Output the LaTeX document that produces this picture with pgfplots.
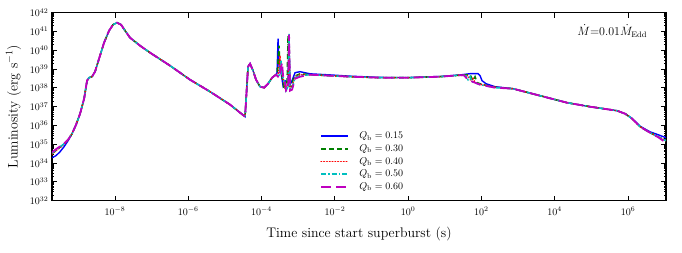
\documentclass[border=0pt]{standalone}
\usepackage{pgfplots}
\usepackage{pgfplotstable}
\pgfplotsset{compat=1.18}
\definecolor{mplblue}{rgb}{0,0,1}
\definecolor{mplgreen}{rgb}{0,0.5,0}
\definecolor{mplred}{rgb}{1,0,0}
\definecolor{mplcyan}{rgb}{0,0.75,0.75}
\definecolor{mplmagenta}{rgb}{0.75,0,0.75}

\pgfplotstableread{
t L
1.9e-10 1.94e34
2.45e-10 2.48e34
3.16e-10 4.04e34
4.06e-10 7.45e34
5.21e-10 1.55e35
6.70e-10 3.66e35
8.62e-10 1.10e36
1.11e-9 4.25e36
1.43e-9 2.67e37
1.72e-9 2.42e38
1.95e-9 3.49e38
2.35e-9 3.95e38
2.84e-9 7.28e38
3.66e-9 3.57e39
5.01e-9 2.54e40
6.86e-9 1.10e41
8.81e-9 2.30e41
1.13e-8 2.94e41
1.46e-8 2.30e41
1.88e-8 1.10e41
2.56e-8 4.68e40
4.81e-8 1.76e40
9.02e-8 7.45e39
3.17e-7 1.52e39
1.11e-6 2.73e38
3.92e-6 6.28e37
1.38e-5 1.28e37
3.53e-5 2.94e36
3.76e-5 2.08e37
4.26e-5 1.34e39
4.84e-5 1.94e39
5.84e-5 8.22e38
7.05e-5 2.73e38
9.06e-5 1.16e38
1.17e-4 1.03e38
1.50e-4 1.67e38
1.93e-4 3.49e38
2.48e-4 5.04e38
2.64e-4 6.44e38
2.81e-4 4.14e40
2.99e-4 1.34e39
3.39e-4 6.44e38
3.85e-4 1.31e38
4.36e-4 2.42e38
5.27e-4 1.89e38
5.61e-4 1.76e40
5.97e-4 1.48e38
6.77e-4 2.42e38
8.18e-4 6.44e38
1.12e-3 7.28e38
2.10e-3 5.60e38
7.38e-3 4.90e38
2.59e-2 4.20e38
0.171 3.60e38
1.0 3.55e38
7.47 4.05e38
26.1 4.90e38
48.9 5.69e38
80.7 5.69e38
91.6 4.46e38
104 2.42e38
133 1.67e38
235 1.16e38
728 9.06e37
3972 3.85e37
2.17e4 1.63e37
9.20e4 1.0e37
5.02e5 6.12e36
8.30e5 4.25e36
1.29e6 2.40e36
2.13e6 9.20e35
3.99e6 4.60e35
6.61e6 3.24e35
1.09e7 2.24e35
}\tabA

\pgfplotstableread{
t L
1.9e-10 3.20e34
2.45e-10 4.70e34
3.16e-10 7.00e34
4.06e-10 1.05e35
5.21e-10 1.72e35
6.70e-10 3.66e35
8.62e-10 1.10e36
1.11e-9 4.25e36
1.43e-9 2.67e37
1.72e-9 2.42e38
1.95e-9 3.49e38
2.35e-9 3.95e38
2.84e-9 7.28e38
3.66e-9 3.57e39
5.01e-9 2.54e40
6.86e-9 1.10e41
8.81e-9 2.30e41
1.13e-8 2.94e41
1.46e-8 2.30e41
1.88e-8 1.10e41
2.56e-8 4.68e40
4.81e-8 1.76e40
9.02e-8 7.45e39
3.17e-7 1.52e39
1.11e-6 2.73e38
3.92e-6 6.28e37
1.38e-5 1.28e37
3.53e-5 2.94e36
3.76e-5 2.08e37
4.26e-5 1.34e39
4.84e-5 1.94e39
5.84e-5 8.22e38
7.05e-5 2.73e38
9.06e-5 1.16e38
1.17e-4 1.03e38
1.50e-4 1.67e38
1.93e-4 3.49e38
2.48e-4 5.04e38
2.64e-4 5.04e38
2.99e-4 1.76e40
3.18e-4 8.22e38
3.61e-4 4.46e38
4.09e-4 9.06e37
4.64e-4 1.89e38
4.94e-4 1.48e38
5.27e-4 5.98e40
5.61e-4 1.31e38
6.36e-4 1.16e38
7.67e-4 3.95e38
1.12e-3 5.69e38
2.10e-3 5.04e38
7.38e-3 4.46e38
2.59e-2 3.95e38
0.171 3.49e38
1.0 3.49e38
7.47 3.95e38
26.1 4.74e38
48.9 5.04e38
59.0 2.42e38
66.8 3.95e38
75.8 1.89e38
111 1.48e38
235 1.09e38
728 9.06e37
3972 3.85e37
2.17e4 1.63e37
9.20e4 1.0e37
5.02e5 6.12e36
8.30e5 4.25e36
1.29e6 2.30e36
2.13e6 8.63e35
3.99e6 4.14e35
6.61e6 2.54e35
1.09e7 1.55e35
}\tabB

\pgfplotstableread{
t L
1.9e-10 3.00e34
2.45e-10 4.50e34
3.16e-10 6.80e34
4.06e-10 1.02e35
5.21e-10 1.70e35
6.70e-10 3.66e35
8.62e-10 1.10e36
1.11e-9 4.25e36
1.43e-9 2.67e37
1.72e-9 2.42e38
1.95e-9 3.49e38
2.35e-9 3.95e38
2.84e-9 7.28e38
3.66e-9 3.57e39
5.01e-9 2.54e40
6.86e-9 1.10e41
8.81e-9 2.30e41
1.13e-8 2.94e41
1.46e-8 2.30e41
1.88e-8 1.10e41
2.56e-8 4.68e40
4.81e-8 1.76e40
9.02e-8 7.45e39
3.17e-7 1.52e39
1.11e-6 2.73e38
3.92e-6 6.28e37
1.38e-5 1.28e37
3.53e-5 2.94e36
3.76e-5 2.08e37
4.26e-5 1.34e39
4.84e-5 1.94e39
5.84e-5 8.22e38
7.05e-5 2.73e38
9.06e-5 1.16e38
1.17e-4 1.03e38
1.50e-4 1.67e38
1.93e-4 3.49e38
2.48e-4 5.04e38
2.81e-4 4.46e38
3.18e-4 5.16e39
3.39e-4 6.44e38
3.85e-4 3.09e38
4.36e-4 9.06e37
4.94e-4 1.48e38
5.27e-4 1.16e38
5.61e-4 4.14e40
5.97e-4 1.16e38
6.77e-4 1.16e38
8.18e-4 3.95e38
1.12e-3 5.04e38
2.10e-3 5.04e38
7.38e-3 4.46e38
2.59e-2 3.95e38
0.171 3.49e38
1.0 3.49e38
7.47 3.95e38
26.1 4.74e38
43.1 4.46e38
52.0 2.42e38
59.0 3.49e38
66.8 1.89e38
104 1.48e38
235 1.09e38
728 9.06e37
3972 3.85e37
2.17e4 1.63e37
9.20e4 1.0e37
5.02e5 6.12e36
8.30e5 4.25e36
1.29e6 2.30e36
2.13e6 8.63e35
3.99e6 4.14e35
6.61e6 2.54e35
1.09e7 1.55e35
}\tabC

\pgfplotstableread{
t L
1.9e-10 3.40e34
2.45e-10 5.00e34
3.16e-10 7.30e34
4.06e-10 1.07e35
5.21e-10 1.74e35
6.70e-10 3.66e35
8.62e-10 1.10e36
1.11e-9 4.25e36
1.43e-9 2.67e37
1.72e-9 2.42e38
1.95e-9 3.49e38
2.35e-9 3.95e38
2.84e-9 7.28e38
3.66e-9 3.57e39
5.01e-9 2.54e40
6.86e-9 1.10e41
8.81e-9 2.30e41
1.13e-8 2.94e41
1.46e-8 2.30e41
1.88e-8 1.10e41
2.56e-8 4.68e40
4.81e-8 1.76e40
9.02e-8 7.45e39
3.17e-7 1.52e39
1.11e-6 2.73e38
3.92e-6 6.28e37
1.38e-5 1.28e37
3.53e-5 2.94e36
3.76e-5 2.08e37
4.26e-5 1.34e39
4.84e-5 1.94e39
5.84e-5 8.22e38
7.05e-5 2.73e38
9.06e-5 1.16e38
1.17e-4 1.03e38
1.50e-4 1.67e38
1.93e-4 3.49e38
2.48e-4 5.04e38
2.99e-4 3.95e38
3.39e-4 2.80e39
3.61e-4 5.04e38
4.09e-4 2.42e38
4.64e-4 7.10e37
5.27e-4 1.16e38
5.61e-4 7.64e40
5.97e-4 9.06e37
6.77e-4 9.06e37
8.18e-4 3.49e38
1.12e-3 4.46e38
2.10e-3 5.04e38
7.38e-3 4.46e38
2.59e-2 3.95e38
0.171 3.49e38
1.0 3.49e38
7.47 3.95e38
26.1 4.74e38
38.0 4.46e38
43.1 2.73e38
48.9 3.95e38
55.3 2.14e38
91.6 1.48e38
235 1.03e38
728 9.06e37
3972 3.85e37
2.17e4 1.63e37
9.20e4 1.0e37
5.02e5 6.12e36
8.30e5 4.25e36
1.29e6 2.30e36
2.13e6 8.63e35
3.99e6 4.14e35
6.61e6 2.54e35
1.09e7 1.55e35
}\tabD

\pgfplotstableread{
t L
1.9e-10 3.80e34
2.45e-10 5.50e34
3.16e-10 7.80e34
4.06e-10 1.10e35
5.21e-10 1.76e35
6.70e-10 3.66e35
8.62e-10 1.10e36
1.11e-9 4.25e36
1.43e-9 2.67e37
1.72e-9 2.42e38
1.95e-9 3.49e38
2.35e-9 3.95e38
2.84e-9 7.28e38
3.66e-9 3.57e39
5.01e-9 2.54e40
6.86e-9 1.10e41
8.81e-9 2.30e41
1.13e-8 2.94e41
1.46e-8 2.30e41
1.88e-8 1.10e41
2.56e-8 4.68e40
4.81e-8 1.76e40
9.02e-8 7.45e39
3.17e-7 1.52e39
1.11e-6 2.73e38
3.92e-6 6.28e37
1.38e-5 1.28e37
3.53e-5 2.94e36
3.76e-5 2.08e37
4.26e-5 1.34e39
4.84e-5 1.94e39
5.84e-5 8.22e38
7.05e-5 2.73e38
9.06e-5 1.16e38
1.17e-4 1.03e38
1.50e-4 1.67e38
1.93e-4 3.49e38
2.48e-4 5.04e38
2.99e-4 3.49e38
3.61e-4 2.19e39
3.85e-4 4.46e38
4.36e-4 1.89e38
4.64e-4 7.10e37
5.27e-4 9.06e37
5.61e-4 6.76e40
5.97e-4 7.10e37
6.77e-4 8.02e37
8.18e-4 3.09e38
1.12e-3 3.95e38
2.10e-3 5.04e38
7.38e-3 4.46e38
2.59e-2 3.95e38
0.171 3.49e38
1.0 3.49e38
7.47 3.95e38
26.1 4.74e38
33.5 4.74e38
38.0 3.49e38
48.9 2.42e38
91.6 1.48e38
235 1.03e38
728 9.06e37
3972 3.85e37
2.17e4 1.63e37
9.20e4 1.0e37
5.02e5 6.12e36
8.30e5 4.25e36
1.29e6 2.30e36
2.13e6 8.63e35
3.99e6 4.14e35
6.61e6 2.40e35
1.09e7 1.22e35
}\tabE

\begin{document}
\begin{tikzpicture}
\begin{axis}[
  scale only axis,
  width=614pt, height=188pt,
  xmode=log, ymode=log,
  xmin=1.9e-10, xmax=1.09e7,
  ymin=1e32, ymax=1e42,
  xtick={1e-8,1e-6,1e-4,1e-2,1,1e2,1e4,1e6},
  xminorticks=false,
  ytick={1e32,1e33,1e34,1e35,1e36,1e37,1e38,1e39,1e40,1e41,1e42},
  tick align=inside,
  tick pos=both,
  major tick length=5pt,
  minor tick length=2.5pt,
  every tick/.style={black, line width=0.8pt},
  axis line style={line width=1.2pt},
  tick label style={font=\fontsize{10}{12}\selectfont},
  xticklabel style={yshift=-3pt},
  label style={font=\fontsize{13.9}{16}\selectfont},
  xlabel={Time since start superburst (s)},
  xlabel style={yshift=-5pt},
  ylabel={Luminosity (erg s$^{-1}$)},
  ylabel style={yshift=2pt},
  clip=true,
  legend style={draw=none, fill=none, at={(0.506,0.03)}, anchor=south,
    font=\fontsize{10}{12}\selectfont, row sep=0.3pt,
    /tikz/every odd column/.append style={column sep=8pt}},
  legend cell align=left,
  legend image post style={xscale=1.6},
]
\addplot[color=mplblue, line width=1.4pt] table[x=t,y=L] {\tabA};
\addlegendentry{$Q_{\mathrm{b}}=0.15$}
\addplot[color=mplgreen, line width=1.5pt, dash pattern=on 5pt off 3pt] table[x=t,y=L] {\tabB};
\addlegendentry{$Q_{\mathrm{b}}=0.30$}
\addplot[color=mplred, line width=1.6pt, line cap=round, dash pattern=on 0.5pt off 2.3pt] table[x=t,y=L] {\tabC};
\addlegendentry{$Q_{\mathrm{b}}=0.40$}
\addplot[color=mplcyan, line width=1.5pt, dash pattern=on 5pt off 2pt on 1.5pt off 2pt] table[x=t,y=L] {\tabD};
\addlegendentry{$Q_{\mathrm{b}}=0.50$}
\addplot[color=mplmagenta, line width=1.8pt, dash pattern=on 10pt off 5pt] table[x=t,y=L] {\tabE};
\addlegendentry{$Q_{\mathrm{b}}=0.60$}
\node[anchor=north east, font=\fontsize{12}{14}\selectfont] at (rel axis cs:0.975,0.955) {$\dot{M}{=}0.01\dot{M}_{\mathrm{Edd}}$};
\end{axis}
\pgfresetboundingbox
\path[use as bounding box] (-52pt,-51.3pt) rectangle (630pt,200.7pt);
\end{tikzpicture}
\end{document}
